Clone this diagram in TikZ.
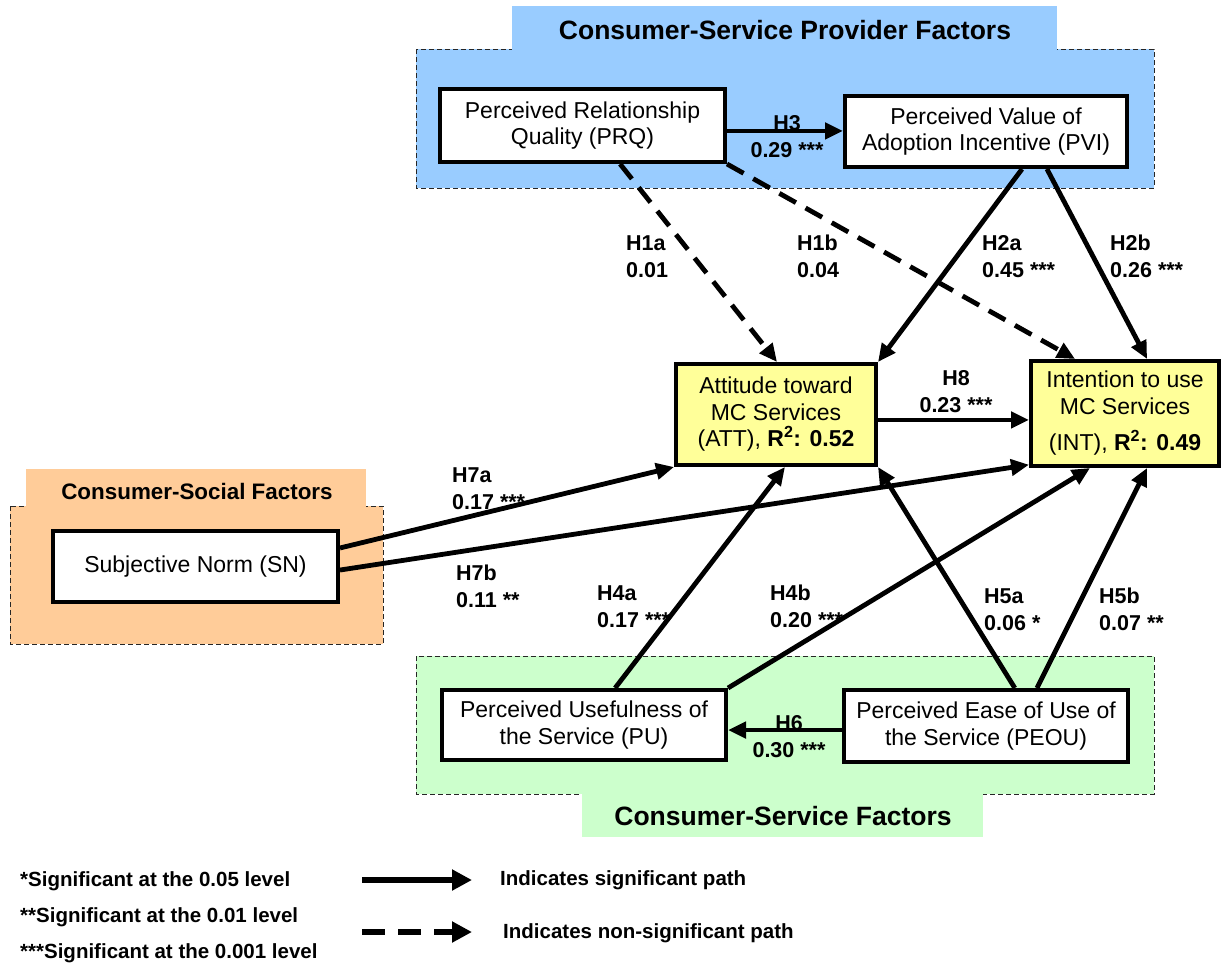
\documentclass[tikz,border=0pt]{standalone}
\usepackage{fontspec}
\setmainfont{Liberation Sans}
\usetikzlibrary{calc,arrows.meta}
\definecolor{provider}{HTML}{99CCFF}
\definecolor{social}{HTML}{FFCC99}
\definecolor{service}{HTML}{CCFFCC}
\definecolor{outcome}{HTML}{FFFF99}

\begin{document}
\begin{tikzpicture}[x=1pt,y=-1pt,
  grpbody/.style={draw=black!85, line width=0.9pt, dash pattern=on 5pt off 3pt},
  grptitle/.style={font=\fontsize{26.5}{30}\selectfont\bfseries, anchor=base, inner sep=0pt},
  construct/.style={draw, line width=4pt, fill=white, align=center, inner sep=0pt,
    font=\fontsize{23}{26.5}\selectfont},
  outcomebox/.style={construct, fill=outcome},
  hyp/.style={font=\fontsize{21.5}{27}\selectfont\bfseries, align=left, anchor=base west, inner sep=0pt},
  hypc/.style={hyp, align=center, anchor=base},
  legendtext/.style={font=\fontsize{20.5}{24}\selectfont\bfseries, anchor=west, inner sep=0pt},
  sigpath/.style={line width=4.8pt, -{Triangle[length=18pt,width=16pt]}},
  nspath/.style={sigpath, dash pattern=on 19pt off 11pt},
  legendsig/.style={line width=6pt, -{Triangle[length=20pt,width=20pt]}},
  legendns/.style={legendsig, dash pattern=on 23pt off 13pt},
]
\useasboundingbox (0,0) rectangle (1222,964);

% ---- factor groups ----
\fill[provider, grpbody] (416,49) rectangle (1154,188);
\fill[provider] (512,6) rectangle (1057,50.5);
\node[grptitle] (tprov) at (785,39) {Consumer-Service Provider Factors};

\fill[social, grpbody] (10,506) rectangle (383,644);
\fill[social] (26,469) rectangle (366,507);
\node[grptitle, font=\fontsize{22.4}{26}\selectfont\bfseries] (tsoc) at (197,499) {Consumer-Social Factors};

\fill[service, grpbody] (416,656) rectangle (1154,794);
\fill[service] (582,793.5) rectangle (983,837);
\node[grptitle] (tserv) at (783,825) {Consumer-Service Factors};

% ---- constructs ----
\node[construct, minimum width=285pt, minimum height=73pt] (PRQ) at (582.5,125.5)
  {Perceived Relationship\\Quality (PRQ)};
\node[construct, minimum width=282pt, minimum height=71pt] (PVI) at (986,131.5)
  {Perceived Value of\\Adoption Incentive (PVI)};
\node[outcomebox, minimum width=200pt, minimum height=101pt] (ATT) at (776,414.5)
  {Attitude toward\\MC Services\\(ATT), \textbf{R\textsuperscript{2}: 0.52}};
\node[outcomebox, minimum width=188pt, minimum height=105pt] (INT) at (1125,413.5)
  {Intention to use\\MC Services\\[10pt](INT), \textbf{R\textsuperscript{2}: 0.49}};
\node[construct, minimum width=285pt, minimum height=71pt] (SN) at (195.5,566.5)
  {Subjective Norm (SN)};
\node[construct, minimum width=284pt, minimum height=70pt] (PU) at (584,725)
  {Perceived Usefulness of\\the Service (PU)};
\node[construct, minimum width=284pt, minimum height=72pt] (PEOU) at (986,726)
  {Perceived Ease of Use of\\the Service (PEOU)};

% ---- path coefficients (placed at the baseline of the lower line) ----
\node[hypc] (lH3) at (787,157) {H3\\0.29 ***};
\node[hyp] (lH1a) at (626,277) {H1a\\0.01};
\node[hyp] (lH1b) at (797,277) {H1b\\0.04};
\node[hyp] (lH2a) at (982,277) {H2a\\0.45 ***};
\node[hyp] (lH2b) at (1110,277) {H2b\\0.26 ***};
\node[hypc] (lH8) at (956,412) {H8\\0.23 ***};
\node[hyp] (lH7a) at (452,509) {H7a\\0.17 ***};
\node[hyp] (lH7b) at (456,607) {H7b\\0.11 **};
\node[hyp] (lH4a) at (597,627) {H4a\\0.17 ***};
\node[hyp] (lH4b) at (770,627) {H4b\\0.20 ***};
\node[hyp] (lH5a) at (984,630) {H5a\\0.06 *};
\node[hyp] (lH5b) at (1099,630) {H5b\\0.07 **};
\node[hypc] (lH6) at (789,757) {H6\\0.30 ***};

% ---- structural paths ----
\draw[sigpath] ($(PRQ.north east)!0.571!(PRQ.south east)$) coordinate (h3s) -- (h3s -| PVI.west);
\draw[nspath] ($(PRQ.south west)!0.63!(PRQ.south east)$) -- ($(ATT.north west)!0.505!(ATT.north east)$);
\draw[nspath] (PRQ.south east) -- ($(INT.north west)!0.24!(INT.north east)$);
\draw[sigpath] ($(PVI.south west)!0.626!(PVI.south east)$) -- (ATT.north east);
\draw[sigpath] ($(PVI.south west)!0.713!(PVI.south east)$) -- ($(INT.north west)!0.615!(INT.north east)$);
\draw[sigpath] ($(ATT.north east)!0.552!(ATT.south east)$) coordinate (h8s) -- (h8s -| INT.west);
\draw[sigpath] ($(SN.north east)!0.253!(SN.south east)$) -- (ATT.south west);
\draw[sigpath] ($(SN.north east)!0.547!(SN.south east)$) -- ($(INT.north west)!0.97!(INT.south west)$);
\draw[sigpath] ($(PU.north west)!0.608!(PU.north east)$) -- ($(ATT.south west)!0.544!(ATT.south east)$);
\draw[sigpath] (PU.north east) -- ($(INT.south west)!0.318!(INT.south east)$);
\draw[sigpath] ($(PEOU.north west)!0.60!(PEOU.north east)$) -- (ATT.south east);
\draw[sigpath] ($(PEOU.north west)!0.677!(PEOU.north east)$) -- ($(INT.south west)!0.615!(INT.south east)$);
\draw[sigpath] ($(PEOU.north west)!0.553!(PEOU.south west)$) coordinate (h6s) -- (h6s -| PU.east);

% ---- legend ----
\node[legendtext] (n1) at (20,881) {*Significant at the 0.05 level};
\node[legendtext] (n2) at (20,917) {**Significant at the 0.01 level};
\node[legendtext] (n3) at (20,953) {***Significant at the 0.001 level};
\coordinate (s1) at (362,880);
\coordinate (s2) at (472,880);
\coordinate (d1) at (362,932);
\coordinate (d2) at (472,932);
\draw[legendsig] (s1) -- (s2);
\draw[legendns] (d1) -- (d2);
\node[legendtext] (k1) at (500,880) {Indicates significant path};
\node[legendtext] (k2) at (503,933) {Indicates non-significant path};
\end{tikzpicture}
\end{document}
